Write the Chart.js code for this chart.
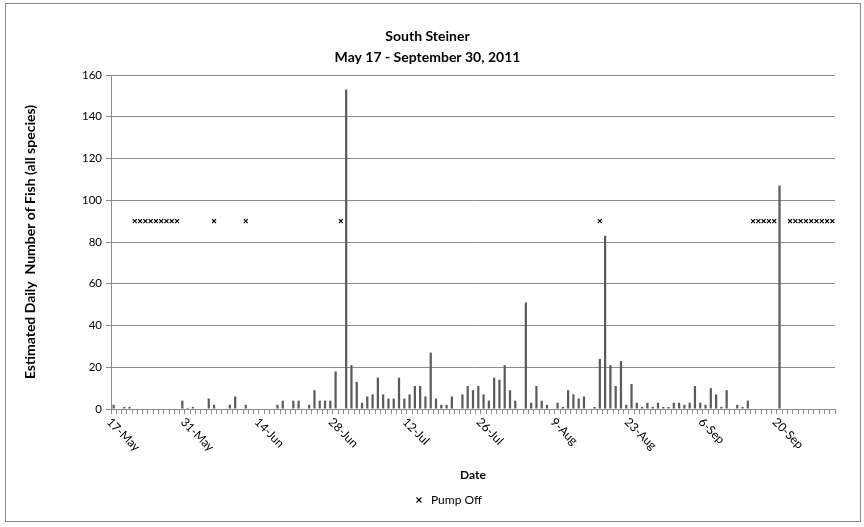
<!DOCTYPE html>
<html>
<head>
<meta charset="utf-8">
<script src="https://cdn.jsdelivr.net/npm/chart.js@4"></script>
<style>
  html, body { margin: 0; padding: 0; background: #fff; }
  #wrap { width: 864px; height: 527px; }
</style>
</head>
<body>
<div id="wrap"><canvas id="fishChart" width="864" height="527"></canvas></div>
<script>
const monthNames = ["Jan", "Feb", "Mar", "Apr", "May", "Jun", "Jul", "Aug", "Sep", "Oct", "Nov", "Dec"];
const dayCount = 137; // 17-May .. 30-Sep

const tickLabels = ["17-May", "31-May", "14-Jun", "28-Jun", "12-Jul", "26-Jul", "9-Aug", "23-Aug", "6-Sep", "20-Sep"];

// estimated daily fish, one value per day starting 17-May
const fishCounts = [
    2, 0, 1, 1, 0, 0, 0, 0, 0, 0, 0, 0, 0, 4, 0.5,       // 17-May .. 31-May
    1, 0, 0, 5, 2, 0, 0, 2, 6, 0, 2, 0, 0, 0, 0,          // 1-Jun .. 15-Jun
    0, 2, 4, 0, 4, 4, 0, 2, 9, 4, 4, 4, 18, 0, 153,       // 16-Jun .. 30-Jun
    21, 13, 3, 6, 7, 15, 7, 5, 5, 15, 5, 7, 11, 11, 6,    // 1-Jul .. 15-Jul
    27, 5, 2, 2, 6, 0, 7, 11, 9, 11, 7, 4, 15, 14, 21,    // 16-Jul .. 30-Jul
    9, 4, 0, 51, 3, 11, 4, 2, 0, 3, 1, 9, 7, 5, 6,        // 31-Jul .. 14-Aug
    0, 1, 24, 83, 21, 11, 23, 2, 12, 3, 1, 3, 1, 3, 1,    // 15-Aug .. 29-Aug
    1, 3, 3, 2, 3, 11, 3, 2, 10, 7, 1, 9, 0, 2, 1,        // 30-Aug .. 13-Sep
    4, 0, 0, 0, 0, 0, 107, 0, 0, 0, 0, 0, 0, 0, 0, 0,     // 14-Sep .. 29-Sep
    0                                                     // 30-Sep
];

const pumpOffDates = [
    "21-May", "22-May", "23-May", "24-May", "25-May", "26-May", "27-May", "28-May", "29-May",
    "5-Jun", "11-Jun", "29-Jun", "17-Aug",
    "15-Sep", "16-Sep", "17-Sep", "18-Sep", "19-Sep",
    "22-Sep", "23-Sep", "24-Sep", "25-Sep", "26-Sep", "27-Sep", "28-Sep", "29-Sep", "30-Sep"
];
const pumpOffLevel = 90;

const labels = [];
for (let i = 0; i < dayCount; i++) {
    const d = new Date(2011, 4, 17 + i);
    labels.push(d.getDate() + "-" + monthNames[d.getMonth()]);
}
const pumpOff = labels.map(l => pumpOffDates.includes(l) ? pumpOffLevel : null);

const fontFam = "Lato, 'Open Sans', sans-serif";
const gridGray = "#8c8c8c";

// outer frame like the spreadsheet chart border
const framePlugin = {
    id: "frame",
    beforeDraw(chart) {
        const ctx = chart.ctx;
        ctx.save();
        ctx.fillStyle = "#fff";
        ctx.fillRect(0, 0, chart.width, chart.height);
        ctx.strokeStyle = "#8a8a8a";
        ctx.lineWidth = 1;
        ctx.strokeRect(5.5, 3.5, 855, 518);
        ctx.restore();
    },
    afterLayout(chart) {
        // legend sits a little right of centre in the original
        chart.legend.left += 20;
        chart.legend.right += 20;
    }
};

// date labels slanting down to the right
const dateLabelPlugin = {
    id: "dateLabels",
    afterDraw(chart) {
        const ctx = chart.ctx;
        const xs = chart.scales.x;
        ctx.save();
        ctx.font = "12px " + fontFam;
        ctx.fillStyle = "#000";
        ctx.textAlign = "left";
        ctx.textBaseline = "middle";
        labels.forEach((lab, i) => {
            if (!tickLabels.includes(lab)) return;
            const px = xs.getPixelForValue(i);
            ctx.save();
            ctx.translate(px - 5, xs.top + 11);
            ctx.rotate(Math.PI / 4);
            ctx.fillText(lab, 0, 0);
            ctx.restore();
        });
        ctx.restore();
    }
};

new Chart(document.getElementById("fishChart").getContext("2d"), {
    type: "bar",
    data: {
        labels: labels,
        datasets: [
            {
                type: "line",
                label: "Pump Off",
                data: pumpOff,
                showLine: false,
                pointStyle: "crossRot",
                pointRadius: 2.8,
                pointBorderWidth: 1.2,
                pointBorderColor: "#000",
                pointBackgroundColor: "#000",
                borderColor: "#000",
                borderWidth: 1.2,
                order: 0
            },
            {
                label: "Fish",
                data: fishCounts,
                backgroundColor: "#5a5a5a",
                barPercentage: 0.42,
                categoryPercentage: 1,
                order: 1
            }
        ]
    },
    options: {
        responsive: false,
        animation: false,
        layout: { padding: { left: 20, right: 29, top: 6, bottom: 11 } },
        plugins: {
            title: {
                display: true,
                text: ["South Steiner", "May 17 - September 30, 2011"],
                color: "#000",
                font: { family: fontFam, size: 14, weight: "bold", lineHeight: 1.5 },
                padding: { top: 20, bottom: 7 }
            },
            legend: {
                position: "bottom",
                labels: {
                    filter: item => item.text === "Pump Off",
                    usePointStyle: true,
                    boxHeight: 5,
                    color: "#000",
                    font: { family: fontFam, size: 12 }
                }
            },
            tooltip: { enabled: false }
        },
        scales: {
            x: {
                grid: { display: true, drawOnChartArea: false, tickLength: 5, color: gridGray, offset: true },
                border: { color: gridGray },
                ticks: { display: false, autoSkip: false },
                title: {
                    display: true,
                    text: "Date",
                    color: "#000",
                    font: { family: fontFam, size: 12, weight: "bold" },
                    padding: { top: 0, bottom: 2 }
                },
                afterFit: s => { s.height = 75; }
            },
            y: {
                min: 0,
                max: 160,
                ticks: { stepSize: 20, color: "#000", font: { family: fontFam, size: 11.5 }, padding: 4 },
                grid: { color: gridGray, tickLength: 5 },
                border: { color: gridGray },
                title: {
                    display: true,
                    text: "Estimated Daily  Number of Fish (all species)",
                    color: "#000",
                    font: { family: fontFam, size: 14, weight: "bold" },
                    padding: { top: 2, bottom: 4 }
                },
                afterFit: s => { s.width = 91; }
            }
        }
    },
    plugins: [framePlugin, dateLabelPlugin]
});
</script>
</body>
</html>
